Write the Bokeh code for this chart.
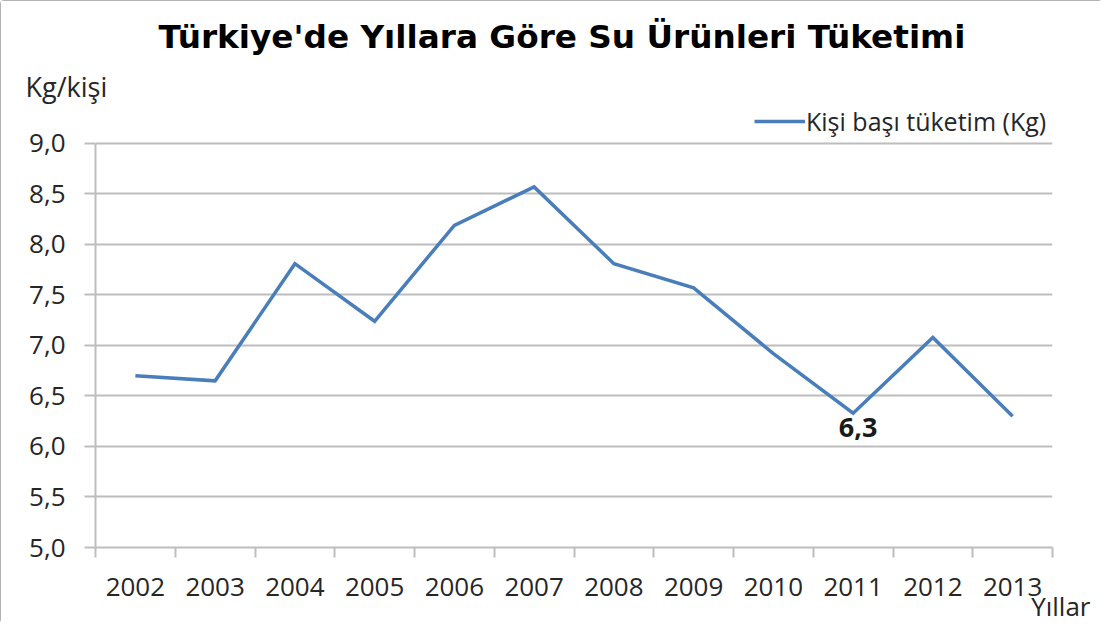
from bokeh.plotting import figure
from bokeh.models import (ColumnDataSource, FixedTicker, CustomJSTickFormatter, Title,
                          LabelSet, Legend, LegendItem, Range1d)
from bokeh.core.properties import value
from bokeh.embed import file_html
from bokeh.resources import INLINE

years = ["2002", "2003", "2004", "2005", "2006", "2007", "2008", "2009", "2010", "2011", "2012", "2013"]
consumption = [6.70, 6.65, 7.81, 7.24, 8.19, 8.57, 7.81, 7.57, 6.92, 6.33, 7.08, 6.30]
y_ticks = [5.0, 5.5, 6.0, 6.5, 7.0, 7.5, 8.0, 8.5, 9.0]
annotated_year = "2011"

title_text = "Türkiye'de Yıllara Göre Su Ürünleri Tüketimi"
series_name = "Kişi başı tüketim (Kg)"
y_label = "Kg/kişi"
x_label = "Yıllar"

FONT = "Open Sans"
GRID = "#bdbdbd"
TXT = "#262626"
LINE = "#4a7ebb"

idx = list(range(len(years)))
src = ColumnDataSource(dict(x=idx, y=consumption, year=years))

# y range extends above 9.0 so that the legend sits inside the frame; axis bounded to 5-9
y_top = y_ticks[-1] + 0.4257
p = figure(width=1102, height=623, output_backend="svg", toolbar_location=None,
           title_location=None,
           x_range=Range1d(-0.5, len(years) - 0.5), y_range=Range1d(y_ticks[0], y_top),
           min_border_left=95, min_border_right=50, min_border_top=100, min_border_bottom=76)
p.styles = {"outline": "2px solid #9a9a9a", "outline-offset": "-2px", "border-radius": "4px"}
p.outline_line_color = None
p.background_fill_color = "white"
p.border_fill_color = "white"

r = p.line("x", "y", source=src, line_color=LINE, line_width=3.5, line_join="miter")

# x axis: labels at centers, tick marks at category boundaries
p.xaxis.ticker = FixedTicker(ticks=idx, minor_ticks=[i - 0.5 for i in range(len(years) + 1)])
p.xaxis.major_label_overrides = {i: y for i, y in zip(idx, years)}
p.xaxis.major_tick_out = 0
p.xaxis.major_tick_in = 0
p.xaxis.minor_tick_out = 10
p.xaxis.minor_tick_in = 0
p.xaxis.minor_tick_line_color = GRID
p.xaxis.minor_tick_line_width = 2
p.xaxis.axis_line_color = GRID
p.xaxis.axis_line_width = 2
p.xaxis.major_label_text_font = FONT
p.xaxis.major_label_text_font_size = "26px"
p.xaxis.major_label_text_color = TXT
p.xaxis.major_label_standoff = 20
p.xgrid.grid_line_color = None

p.yaxis.bounds = (y_ticks[0], y_ticks[-1])
p.yaxis.ticker = FixedTicker(ticks=y_ticks, minor_ticks=[])
p.yaxis.formatter = CustomJSTickFormatter(code="return tick.toFixed(1).replace('.', ',');")
p.yaxis.major_tick_out = 11
p.yaxis.major_tick_in = 0
p.yaxis.major_tick_line_color = GRID
p.yaxis.major_tick_line_width = 2
p.yaxis.minor_tick_line_color = None
p.yaxis.axis_line_color = GRID
p.yaxis.axis_line_width = 2
p.yaxis.major_label_text_font = FONT
p.yaxis.major_label_text_font_size = "26px"
p.yaxis.major_label_text_color = TXT
p.yaxis.major_label_standoff = 19
p.ygrid.grid_line_color = GRID
p.ygrid.grid_line_width = 2

# annotation below the 2011 point
ai = years.index(annotated_year)
ann_src = ColumnDataSource(dict(x=[idx[ai]], y=[consumption[ai]],
                                t=[f"{consumption[ai]:.1f}".replace(".", ",")]))
p.add_layout(LabelSet(x="x", y="y", text="t", source=ann_src, x_offset=5, y_offset=-5,
                      text_align="center", text_baseline="top", text_font=value(FONT),
                      text_font_style="bold", text_font_size="27px", text_color="#1a1a1a"))

# titles in the side panels (first added = closest to frame)
p.add_layout(Title(text=y_label, align="left", offset=-70, standoff=-8,
                   text_font=FONT, text_font_style="normal", text_font_size="27px",
                   text_color=TXT), "above")
p.add_layout(Title(text=title_text, align="left", offset=63, standoff=28,
                   text_font="DejaVu Sans", text_font_style="bold", text_font_size="32.7px",
                   text_color="black"), "above")
p.add_layout(Title(text=x_label, align="right", offset=-38, standoff=-26,
                   text_font=FONT, text_font_style="normal", text_font_size="26px",
                   text_color=TXT), "below")

legend = Legend(items=[LegendItem(label=series_name, renderers=[r])], location=(659, 409),
                border_line_color=None, background_fill_alpha=0, padding=0, margin=0,
                glyph_width=51, glyph_height=20, label_standoff=1,
                label_text_font=FONT, label_text_font_size="25px", label_text_color=TXT)
p.add_layout(legend, "center")

open("out.html", "w").write(file_html(p, INLINE))
